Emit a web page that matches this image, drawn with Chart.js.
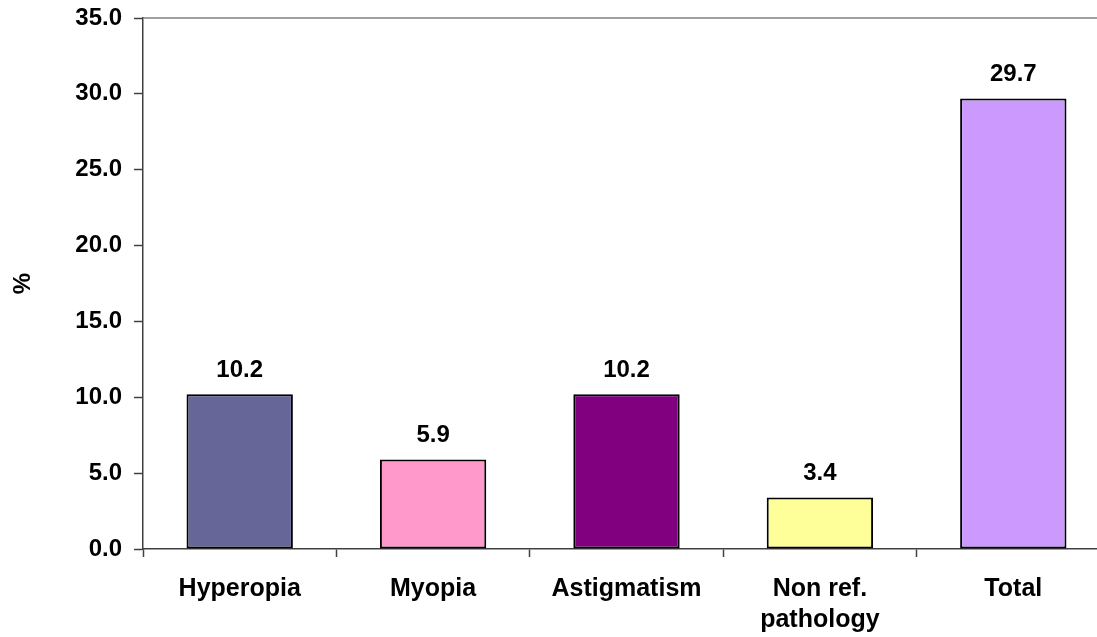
<!DOCTYPE html>
<html>
<head>
<meta charset="utf-8">
<script src="https://cdn.jsdelivr.net/npm/chart.js@4/dist/chart.umd.min.js"></script>
<style>
  html, body { margin: 0; padding: 0; background: #ffffff; overflow: hidden; }
  #wrap { width: 1110px; height: 637px; }
</style>
</head>
<body>
<div id="wrap"><canvas id="c" width="1110" height="637"></canvas></div>
<script>
// Prevalence of visual disorders (%)
const categories = ['Hyperopia', 'Myopia', 'Astigmatism', ['Non ref.', 'pathology'], 'Total'];
const values = [10.2, 5.9, 10.2, 3.4, 29.7];
const barColors = ['#666699', '#FF99CC', '#800080', '#FFFF99', '#CC99FF'];
const yTicks = [0, 5, 10, 15, 20, 25, 30, 35];

const FONT = '"Liberation Sans", Arial, sans-serif';

// Value labels above each bar
const valueLabels = {
  id: 'valueLabels',
  afterDatasetsDraw(chart) {
    const ctx = chart.ctx;
    const meta = chart.getDatasetMeta(0);
    ctx.save();
    ctx.font = 'bold 24px ' + FONT;
    ctx.fillStyle = '#000000';
    ctx.textAlign = 'center';
    ctx.textBaseline = 'alphabetic';
    meta.data.forEach((bar, i) => {
      ctx.fillText(values[i].toFixed(1), bar.x, bar.y - 17);
    });
    ctx.restore();
  }
};

// Thin line closing the top of the plot area
const topLine = {
  id: 'topLine',
  beforeDatasetsDraw(chart) {
    const { ctx, chartArea } = chart;
    ctx.save();
    ctx.strokeStyle = '#808080';
    ctx.lineWidth = 1.5;
    ctx.beginPath();
    ctx.moveTo(chartArea.left, chartArea.top);
    ctx.lineTo(chartArea.right, chartArea.top);
    ctx.stroke();
    ctx.restore();
  }
};

new Chart(document.getElementById('c'), {
  type: 'bar',
  data: {
    labels: categories,
    datasets: [{
      data: values,
      backgroundColor: barColors,
      borderColor: '#000000',
      borderWidth: 2,
      borderSkipped: false,
      barPercentage: 0.55,
      categoryPercentage: 1.0
    }]
  },
  options: {
    responsive: false,
    animation: false,
    layout: { padding: { top: 18, right: 0, bottom: 0, left: 0 } },
    plugins: {
      legend: { display: false },
      tooltip: { enabled: false }
    },
    scales: {
      x: {
        offset: true,
        grid: {
          display: true,
          offset: true,
          drawOnChartArea: false,
          drawTicks: true,
          tickLength: 8,
          tickColor: '#404040',
          tickWidth: 1.5
        },
        border: { display: true, color: '#404040', width: 1.5 },
        ticks: {
          color: '#000000',
          font: { family: FONT, size: 25, weight: 'bold', lineHeight: 1.24 },
          padding: 17,
          maxRotation: 0,
          autoSkip: false
        },
        afterFit(scale) { scale.height = 88; }
      },
      y: {
        min: 0,
        max: 35,
        afterBuildTicks(scale) { scale.ticks = yTicks.map(v => ({ value: v })); },
        grid: {
          display: true,
          drawOnChartArea: false,
          drawTicks: true,
          tickLength: 9,
          tickColor: '#404040',
          tickWidth: 1.5
        },
        border: { display: true, color: '#404040', width: 1.5 },
        ticks: {
          color: '#000000',
          font: { family: FONT, size: 24, weight: 'bold' },
          padding: 12,
          callback: v => Number(v).toFixed(1)
        },
        title: {
          display: true,
          text: '%',
          color: '#000000',
          font: { family: FONT, size: 24, weight: 'bold' },
          padding: { top: 9, bottom: 0 }
        },
        afterFit(scale) {
          scale.width = 143;
          scale.paddingTop = 0;
          scale.paddingBottom = 0;
        }
      }
    }
  },
  plugins: [valueLabels, topLine]
});
</script>
</body>
</html>
